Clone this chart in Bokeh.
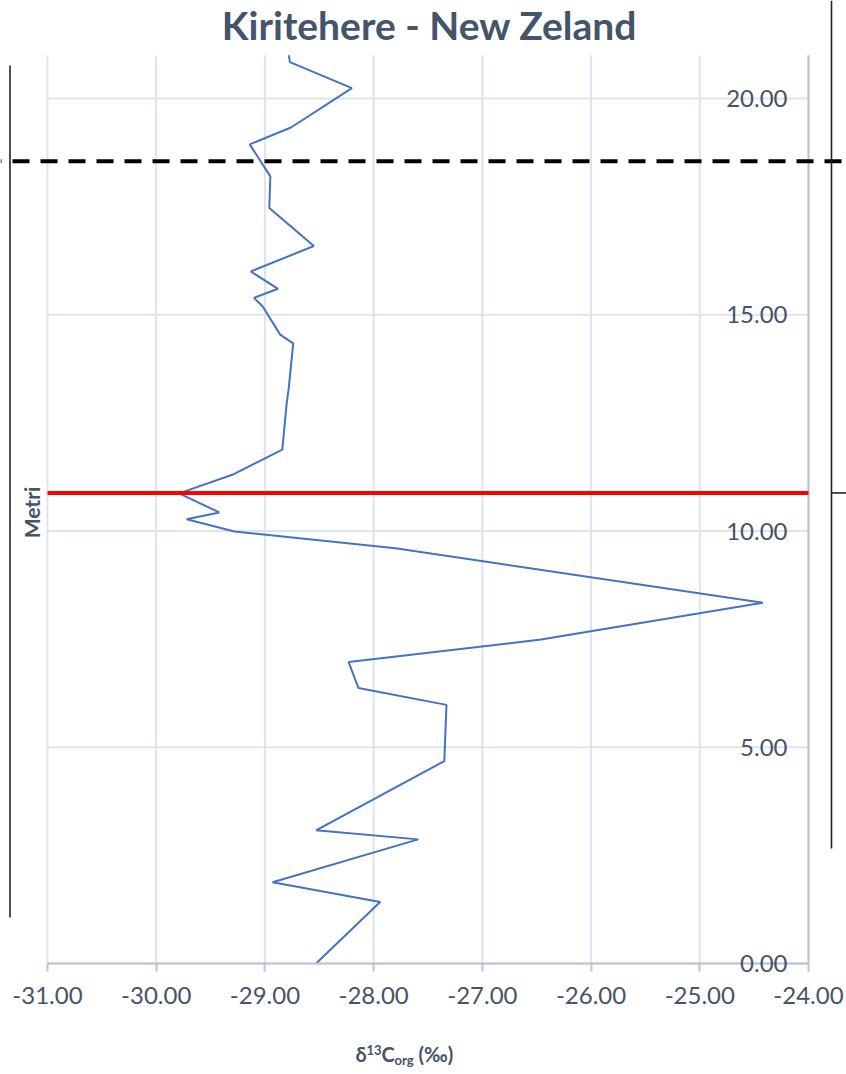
import math
from bokeh.plotting import figure
from bokeh.models import Range1d, Label, Span, Arrow, NumeralTickFormatter, FixedTicker
from bokeh.embed import file_html
from bokeh.resources import INLINE

# ---- data ----
depth_m = [0.00, 1.42, 1.88, 2.87, 3.08, 4.68, 5.98, 6.37, 6.97, 7.49, 8.34, 9.60,
           9.99, 10.27, 10.43, 10.87, 11.30, 11.88, 12.95, 13.32, 14.34, 14.54,
           15.19, 15.39, 15.60, 16.00, 16.59, 17.47, 18.20, 18.94, 19.33, 20.24,
           20.84, 21.00]
d13c_org = [-28.53, -27.94, -28.93, -27.59, -28.53, -27.35, -27.33, -28.14, -28.23,
            -26.46, -24.42, -27.80, -29.28, -29.72, -29.42, -29.79, -29.30, -28.84,
            -28.80, -28.78, -28.74, -28.86, -29.02, -29.10, -28.88, -29.13, -28.55,
            -28.96, -28.95, -29.14, -28.76, -28.20, -28.77, -28.78]
x_ticks = [-31, -30, -29, -28, -27, -26, -25, -24]
y_ticks = [0, 5, 10, 15, 20]
y_max = 21
red_boundary_m = 10.88
dashed_boundary_m = 18.55

TXT = "#44546a"
GRID = "#dfe3eb"
AXIS = "#b8c3d5"
FONT = "Lato"

# ---- page geometry (pixels) : plot area 47..808 x 55..963 on an 846x1074 canvas ----
W, H = 846, 1074
PL, PR, PB = 47, 808, 963
PXX = (PR - PL) / (x_ticks[-1] - x_ticks[0])
PXY = (PB - 98) / 20.0

def px2x(px):
    return x_ticks[0] + (px - PL) / PXX

def px2y(py):
    return (PB - py) / PXY

p = figure(width=W, height=H,
           x_range=Range1d(px2x(0), px2x(W)), y_range=Range1d(px2y(H), px2y(0)),
           output_backend="svg", toolbar_location=None,
           min_border=0, min_border_left=0, min_border_right=0,
           min_border_top=0, min_border_bottom=0,
           background_fill_color="white", border_fill_color="white",
           outline_line_color=None)
p.title.visible = False
p.xgrid.visible = False
p.ygrid.visible = False

# gridlines, drawn only inside the plot area
p.segment(x0=x_ticks, y0=[y_ticks[0]] * len(x_ticks), x1=x_ticks, y1=[y_max] * len(x_ticks),
          line_color=GRID, line_width=2)
p.segment(x0=[x_ticks[0]] * len(y_ticks), y0=y_ticks, x1=[x_ticks[-1]] * len(y_ticks), y1=y_ticks,
          line_color=GRID, line_width=2)

# x axis at depth 0
xa = p.xaxis[0]
xa.fixed_location = 0
xa.bounds = (x_ticks[0], x_ticks[-1])
xa.ticker = FixedTicker(ticks=x_ticks)
xa.formatter = NumeralTickFormatter(format="0.00")
xa.major_tick_out = 8
xa.major_tick_in = 0
xa.minor_tick_line_color = None
xa.axis_line_color = AXIS
xa.axis_line_width = 2
xa.major_tick_line_color = AXIS
xa.major_tick_line_width = 2
xa.major_label_text_font = FONT
xa.major_label_text_font_size = "24px"
xa.major_label_text_color = TXT
xa.major_label_standoff = 15

# y axis at x = -24, labels on its left
ya = p.yaxis[0]
ya.fixed_location = x_ticks[-1]
ya.bounds = (0, y_max)
ya.ticker = FixedTicker(ticks=y_ticks)
ya.formatter = NumeralTickFormatter(format="0.00")
ya.major_tick_out = 0
ya.major_tick_in = 0
ya.minor_tick_line_color = None
ya.major_tick_line_color = None
ya.axis_line_color = AXIS
ya.axis_line_width = 2
ya.major_label_text_font = FONT
ya.major_label_text_font_size = "24px"
ya.major_label_text_color = TXT
ya.major_label_standoff = 21

# data line
p.line(d13c_org, depth_m, line_color="#4472c4", line_width=2)

# boundaries
p.add_layout(Arrow(end=None, x_start=x_ticks[0], y_start=red_boundary_m,
                   x_end=x_ticks[-1], y_end=red_boundary_m,
                   line_color="#ff0000", line_width=4))
p.add_layout(Span(location=dashed_boundary_m, dimension="width",
                  line_color="black", line_width=4, line_dash="17 11",
                  line_dash_offset=16))

# bracket lines at the page edges
p.add_layout(Arrow(end=None, x_start=px2x(9.5), y_start=px2y(65), x_end=px2x(9.5), y_end=px2y(917),
                   line_color="#505050", line_width=2))
p.add_layout(Arrow(end=None, x_start=px2x(831), y_start=px2y(0), x_end=px2x(831), y_end=px2y(848),
                   line_color="#222222", line_width=1.6))
p.add_layout(Arrow(end=None, x_start=px2x(831), y_start=red_boundary_m, x_end=px2x(846),
                   y_end=red_boundary_m, line_color="#222222", line_width=1.6))

# title
p.add_layout(Label(x=px2x(429), y=px2y(24), text="Kiritehere - New Zeland",
                   text_align="center", text_baseline="alphabetic",
                   text_font=FONT, text_font_size="39px", text_font_style="bold",
                   text_color=TXT))

# axis titles
p.add_layout(Label(x=px2x(31), y=px2y(512), text="Metri", angle=math.pi / 2,
                   text_align="center", text_baseline="middle",
                   text_font=FONT, text_font_size="21px", text_font_style="bold",
                   text_color=TXT))
parts = [("δ", 355, 1053, "20px"), ("13", 366, 1049, "13px"), ("C", 381, 1053, "20px"),
         ("org", 394, 1059, "13px"), ("(‰)", 418, 1053, "20px")]
for t, px, py, fs in parts:
    p.add_layout(Label(x=px2x(px), y=px2y(py), text=t,
                       text_align="left", text_baseline="alphabetic",
                       text_font=FONT, text_font_size=fs, text_font_style="bold",
                       text_color=TXT))

open("out.html", "w").write(file_html(p, INLINE))
